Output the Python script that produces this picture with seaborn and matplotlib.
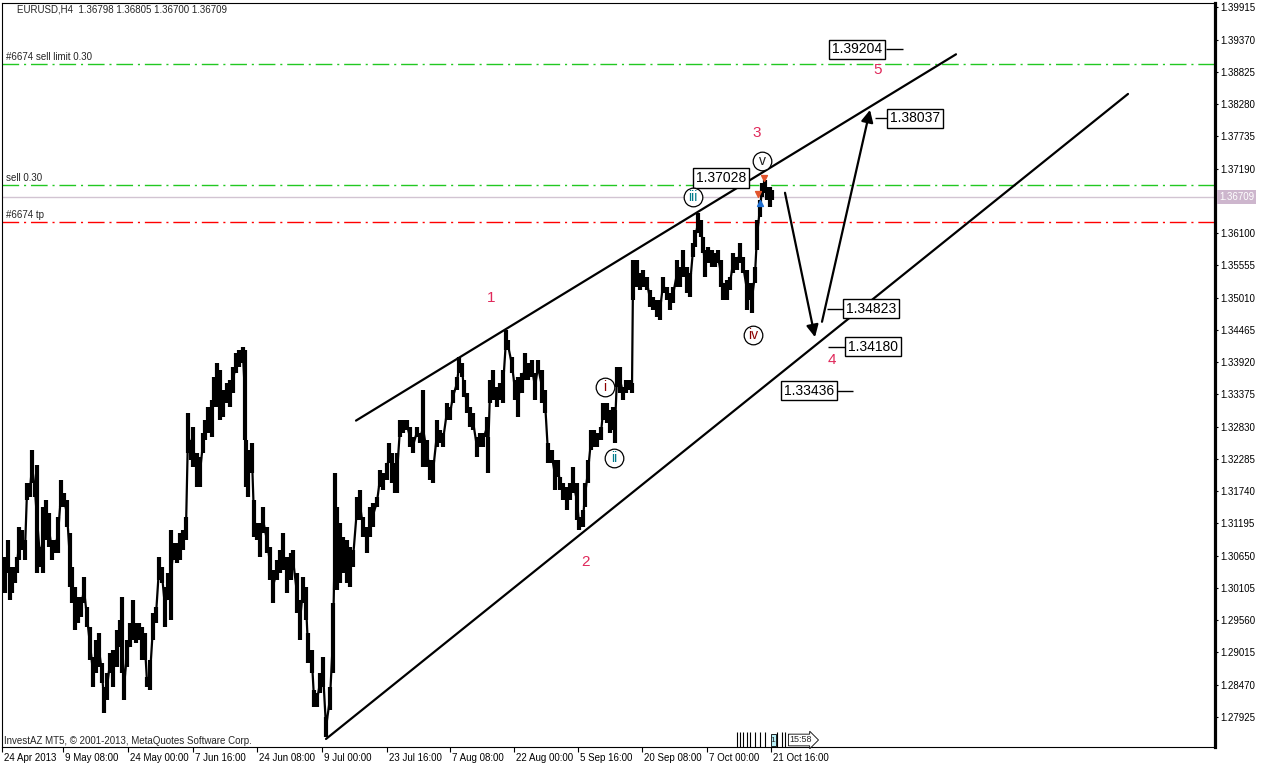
import matplotlib

matplotlib.use("Agg")

import matplotlib.pyplot as plt
import matplotlib.transforms as mtransforms
import pandas as pd
import seaborn as sns

# EURUSD H4 bars (bar index ~ one bar per pixel column)
BAR_INDEX = [
    5, 8, 10, 12, 15, 17, 19, 22, 25, 27,
    30, 32, 35, 37, 40, 43, 46, 49, 52, 55,
    58, 61, 64, 67, 70, 72, 75, 78, 81, 84,
    87, 90, 93, 96, 99, 102, 104, 107, 110, 113,
    117, 120, 122, 124, 127, 130, 133, 136, 139, 142,
    145, 147, 150, 153, 156, 159, 162, 165, 168, 171,
    173, 177, 180, 183, 186, 188, 191, 193, 197, 200,
    203, 205, 208, 212, 214, 217, 220, 223, 227, 230,
    233, 236, 239, 243, 245, 246, 248, 252, 254, 257,
    260, 263, 267, 270, 273, 277, 280, 283, 287, 291,
    293, 297, 300, 303, 306, 308, 312, 314, 317, 320,
    323, 326, 330, 333, 335, 337, 340, 343, 347, 350,
    353, 357, 360, 363, 367, 370, 373, 377, 380, 383,
    387, 389, 392, 395, 397, 400, 403, 407, 410, 413,
    417, 420, 423, 427, 430, 433, 437, 440, 443, 447,
    450, 453, 457, 459, 462, 464, 467, 470, 473, 477,
    480, 483, 487, 488, 490, 493, 497, 500, 503, 506,
    508, 512, 515, 518, 522, 525, 528, 532, 535, 538,
    542, 545, 548, 552, 555, 558, 560, 563, 567, 570,
    573, 577, 579, 583, 585, 588, 591, 594, 597, 601,
    603, 607, 610, 613, 615, 617, 620, 623, 626, 629,
    632, 633, 637, 640, 643, 647, 650, 653, 657, 660,
    663, 667, 670, 673, 677, 680, 683, 687, 690, 693,
    695, 698, 701, 703, 705, 708, 712, 715, 718, 721,
    723, 727, 730, 733, 737, 740, 743, 747, 750, 752,
    755, 757, 760, 762, 765, 767, 770, 772,
]
BAR_HIGH = [
    1.3063, 1.3091, 1.3046, 1.3046, 1.3046, 1.3063, 1.3113, 1.3108, 1.3091, 1.3188,
    1.3188, 1.3243, 1.3188, 1.3218, 1.3079, 1.3147, 1.3159, 1.3137, 1.3091, 1.3091,
    1.3130, 1.3193, 1.3171, 1.3159, 1.3103, 1.3046, 1.3012, 1.2995, 1.2995, 1.3029,
    1.2978, 1.2944, 1.2894, 1.2922, 1.2934, 1.2883, 1.2843, 1.2866, 1.2900, 1.2905,
    1.2939, 1.2956, 1.2995, 1.2866, 1.2922, 1.2951, 1.2990, 1.2951, 1.2951, 1.2944,
    1.2934, 1.2860, 1.2888, 1.2968, 1.2978, 1.3063, 1.3046, 1.3012, 1.3035, 1.3108,
    1.3086, 1.3086, 1.3103, 1.3108, 1.3130, 1.3306, 1.3260, 1.3282, 1.3238, 1.3232,
    1.3272, 1.3294, 1.3316, 1.3328, 1.3367, 1.3390, 1.3379, 1.3345, 1.3357, 1.3362,
    1.3384, 1.3407, 1.3412, 1.3417, 1.3412, 1.3260, 1.3243, 1.3255, 1.3159, 1.3120,
    1.3120, 1.3147, 1.3113, 1.3079, 1.3041, 1.3057, 1.3074, 1.3103, 1.3063, 1.3069,
    1.3074, 1.3035, 1.2990, 1.3029, 1.3012, 1.2934, 1.2905, 1.2838, 1.2833, 1.2866,
    1.2894, 1.2792, 1.2843, 1.2985, 1.3204, 1.3147, 1.3120, 1.3096, 1.3091, 1.3079,
    1.3074, 1.3164, 1.3176, 1.3130, 1.3113, 1.3147, 1.3154, 1.3164, 1.3210, 1.3204,
    1.3221, 1.3255, 1.3238, 1.3221, 1.3238, 1.3294, 1.3294, 1.3294, 1.3282, 1.3265,
    1.3282, 1.3272, 1.3345, 1.3260, 1.3226, 1.3226, 1.3294, 1.3277, 1.3272, 1.3323,
    1.3316, 1.3345, 1.3367, 1.3401, 1.3390, 1.3362, 1.3340, 1.3316, 1.3306, 1.3265,
    1.3272, 1.3272, 1.3299, 1.3265, 1.3362, 1.3379, 1.3350, 1.3357, 1.3379, 1.3446,
    1.3429, 1.3401, 1.3362, 1.3367, 1.3373, 1.3407, 1.3390, 1.3395, 1.3373, 1.3395,
    1.3379, 1.3345, 1.3255, 1.3243, 1.3226, 1.3226, 1.3198, 1.3188, 1.3181, 1.3188,
    1.3215, 1.3188, 1.3130, 1.3142, 1.3188, 1.3226, 1.3277, 1.3277, 1.3272, 1.3282,
    1.3323, 1.3323, 1.3311, 1.3316, 1.3311, 1.3384, 1.3384, 1.3350, 1.3362, 1.3362,
    1.3357, 1.3564, 1.3564, 1.3542, 1.3548, 1.3536, 1.3514, 1.3502, 1.3497, 1.3497,
    1.3536, 1.3519, 1.3509, 1.3519, 1.3564, 1.3553, 1.3581, 1.3553, 1.3542, 1.3593,
    1.3615, 1.3644, 1.3632, 1.3603, 1.3581, 1.3586, 1.3581, 1.3576, 1.3581, 1.3564,
    1.3526, 1.3531, 1.3536, 1.3576, 1.3570, 1.3593, 1.3570, 1.3548, 1.3526, 1.3526,
    1.3553, 1.3632, 1.3666, 1.3695, 1.3700, 1.3688, 1.3688, 1.3683,
]
BAR_LOW = [
    1.3002, 1.3035, 1.2990, 1.3002, 1.3019, 1.3035, 1.3057, 1.3074, 1.3057, 1.3159,
    1.3164, 1.3188, 1.3164, 1.3035, 1.3046, 1.3035, 1.3091, 1.3079, 1.3057, 1.3069,
    1.3069, 1.3147, 1.3147, 1.3113, 1.3012, 1.2985, 1.2939, 1.2951, 1.2961, 1.2985,
    1.2944, 1.2888, 1.2843, 1.2866, 1.2877, 1.2850, 1.2799, 1.2821, 1.2866, 1.2843,
    1.2877, 1.2910, 1.2866, 1.2821, 1.2877, 1.2910, 1.2922, 1.2917, 1.2922, 1.2888,
    1.2888, 1.2843, 1.2838, 1.2922, 1.2951, 1.3024, 1.3019, 1.2944, 1.2990, 1.2956,
    1.3057, 1.3052, 1.3057, 1.3074, 1.3091, 1.3238, 1.3226, 1.3215, 1.3181, 1.3181,
    1.3238, 1.3260, 1.3272, 1.3265, 1.3316, 1.3316, 1.3294, 1.3299, 1.3323, 1.3316,
    1.3340, 1.3373, 1.3384, 1.3390, 1.3260, 1.3181, 1.3164, 1.3204, 1.3096, 1.3091,
    1.3063, 1.3103, 1.3069, 1.3024, 1.2985, 1.3024, 1.3035, 1.3041, 1.3002, 1.3024,
    1.3041, 1.2968, 1.2922, 1.2985, 1.2956, 1.2883, 1.2866, 1.2809, 1.2809, 1.2833,
    1.2843, 1.2758, 1.2804, 1.2866, 1.3007, 1.3007, 1.3019, 1.3035, 1.3019, 1.3012,
    1.3046, 1.3125, 1.3125, 1.3096, 1.3069, 1.3096, 1.3113, 1.3147, 1.3181, 1.3176,
    1.3193, 1.3221, 1.3188, 1.3171, 1.3171, 1.3265, 1.3272, 1.3277, 1.3248, 1.3238,
    1.3265, 1.3255, 1.3215, 1.3215, 1.3193, 1.3188, 1.3248, 1.3255, 1.3248, 1.3294,
    1.3294, 1.3323, 1.3345, 1.3373, 1.3367, 1.3333, 1.3306, 1.3282, 1.3277, 1.3232,
    1.3248, 1.3248, 1.3265, 1.3204, 1.3323, 1.3328, 1.3316, 1.3328, 1.3323, 1.3412,
    1.3412, 1.3373, 1.3328, 1.3299, 1.3340, 1.3362, 1.3362, 1.3367, 1.3328, 1.3373,
    1.3323, 1.3306, 1.3221, 1.3221, 1.3176, 1.3198, 1.3176, 1.3159, 1.3142, 1.3159,
    1.3171, 1.3125, 1.3108, 1.3113, 1.3147, 1.3188, 1.3243, 1.3248, 1.3248, 1.3260,
    1.3294, 1.3289, 1.3272, 1.3277, 1.3255, 1.3350, 1.3340, 1.3328, 1.3340, 1.3345,
    1.3340, 1.3497, 1.3519, 1.3514, 1.3519, 1.3514, 1.3485, 1.3480, 1.3468, 1.3463,
    1.3509, 1.3497, 1.3480, 1.3492, 1.3519, 1.3519, 1.3536, 1.3509, 1.3502, 1.3570,
    1.3586, 1.3610, 1.3603, 1.3576, 1.3536, 1.3559, 1.3553, 1.3553, 1.3559, 1.3519,
    1.3497, 1.3497, 1.3514, 1.3542, 1.3548, 1.3559, 1.3542, 1.3480, 1.3497, 1.3475,
    1.3526, 1.3581, 1.3637, 1.3671, 1.3678, 1.3666, 1.3654, 1.3666,
]

LAST_PRICE = 1.36709
HEADER = "EURUSD,H4  1.36798 1.36805 1.36700 1.36709"
FOOTER = "InvestAZ MT5, \u00a9 2001-2013, MetaQuotes Software Corp."

# order levels
ORDER_LEVELS = [1.38957, 1.36912, 1.36287]
ORDER_LABELS = ["#6674 sell limit 0.30", "sell 0.30", "#6674 tp"]
ORDER_COLORS = ["#22c822", "#22c822", "#ff0000"]

# wedge / channel lines (bar index, price)
UPPER_X = [356, 956]
UPPER_Y = [1.3293, 1.3912]
LOWER_X = [326, 1128]
LOWER_Y = [1.2755, 1.3845]

# projected path arrows (start, end)
DOWN_ARROW = [(785, 1.3678), (815, 1.3434)]
UP_ARROW = [(822, 1.3460), (870, 1.3818)]

# price target boxes
TARGET_LEVELS = [1.39204, 1.38037, 1.37028, 1.34823, 1.34180, 1.33436]
TARGET_BOX_X = [857, 915, 721, 871, 873, 809]
TARGET_LEADERS = [(886, 903), (875, 887), None, (827, 843), (828, 845), (837, 853)]

# Elliott wave counts
WAVE_LABELS = ["1", "2", "3", "4", "5"]
WAVE_X = [491, 586, 757, 832, 878]
WAVE_Y = [1.3500, 1.3054, 1.3779, 1.3395, 1.3886]

SUB_LABELS = ["i", "ii", "iii", "iv", "v"]
SUB_X = [605, 614, 693, 753, 762]
SUB_Y = [1.3350, 1.3230, 1.3671, 1.3438, 1.3732]
SUB_COLORS = ["#8b0000", "#007b8b", "#007b8b", "#8b0000", "#202020"]

# trade history markers near the last bars
TRADE_MARK_X = [737, 740, 743, 747, 750, 755, 760, 765, 777, 782, 785]

X_TICKS = [2, 63, 128, 193, 257, 322, 387, 450, 514, 578, 642, 707, 771]
X_TICK_LABELS = [
    "24 Apr 2013", "9 May 08:00", "24 May 00:00", "7 Jun 16:00", "24 Jun 08:00",
    "9 Jul 00:00", "23 Jul 16:00", "7 Aug 08:00", "22 Aug 00:00", "5 Sep 16:00",
    "20 Sep 08:00", "7 Oct 00:00", "21 Oct 16:00",
]
Y_TICKS = [
    1.39915, 1.39370, 1.38825, 1.38280, 1.37735, 1.37190, 1.36645, 1.36100,
    1.35555, 1.35010, 1.34465, 1.33920, 1.33375, 1.32830, 1.32285, 1.31740,
    1.31195, 1.30650, 1.30105, 1.29560, 1.29015, 1.28470, 1.27925,
]
# the 1.36645 label sits under the last-price tag, so it is left blank
Y_TICK_LABELS = [f"{v:.5f}" if v != 1.36645 else "" for v in Y_TICKS]

W, H = 1268, 769


def main() -> None:
    sns.set_style("white")
    plt.rcParams["font.family"] = ["Liberation Sans", "DejaVu Sans"]

    fig = plt.figure(figsize=(W / 100, H / 100), dpi=100)
    ax = fig.add_axes([2 / W, (H - 747) / H, (1215 - 2) / W, (747 - 3) / H])
    ax.set_xlim(2, 1215)
    ax.set_ylim(1.27414, 1.39987)

    bars = pd.DataFrame({"bar": BAR_INDEX, "high": BAR_HIGH, "low": BAR_LOW})
    bars["mid"] = (bars["high"] + bars["low"]) / 2

    ax.vlines(bars["bar"], bars["low"], bars["high"], color="black", lw=3.0, zorder=3)
    sns.lineplot(data=bars, x="bar", y="mid", color="black", lw=1.6, ax=ax, zorder=3)

    dash = (0, (12, 3.5, 1.5, 3.5))
    for level, label, color in zip(ORDER_LEVELS, ORDER_LABELS, ORDER_COLORS):
        ax.axhline(level, color=color, lw=1, linestyle=dash, zorder=1)
        ax.annotate(label, xy=(6, level), xytext=(0, 1.5), textcoords="offset points",
                    fontsize=7, va="bottom", ha="left")
    ax.axhline(LAST_PRICE, color="#d2c4d2", lw=1, zorder=1)

    sns.lineplot(x=UPPER_X, y=UPPER_Y, color="black", lw=1.6, ax=ax, zorder=4)
    sns.lineplot(x=LOWER_X, y=LOWER_Y, color="black", lw=1.6, ax=ax, zorder=4)

    for start, end in (DOWN_ARROW, UP_ARROW):
        ax.annotate("", xy=end, xytext=start,
                    arrowprops=dict(arrowstyle="-|>", color="black", lw=1.6,
                                    mutation_scale=18, shrinkA=0, shrinkB=0),
                    zorder=5)

    for level, bx, leader in zip(TARGET_LEVELS, TARGET_BOX_X, TARGET_LEADERS):
        if leader is not None:
            ax.hlines(level, leader[0], leader[1], color="black", lw=1, zorder=5)
        ax.text(bx, level, f"{level:.5f}", ha="center", va="center", fontsize=10,
                color="black", zorder=6,
                bbox=dict(boxstyle="square,pad=0.2", fc="white", ec="black", lw=1))

    for label, x, y in zip(WAVE_LABELS, WAVE_X, WAVE_Y):
        ax.text(x, y, label, ha="center", va="center", fontsize=11, color="#e0285a", zorder=6)

    ax.scatter(SUB_X, SUB_Y, s=180, facecolor="white", edgecolor="black", lw=0.9, zorder=6)
    for label, x, y, color in zip(SUB_LABELS, SUB_X, SUB_Y, SUB_COLORS):
        ax.text(x, y, label, ha="center", va="center", fontsize=10, color=color, zorder=7)

    # deal arrows on the last bars
    ax.scatter([758, 764], [1.3676, 1.3703], marker="v", s=18, color="#e2542c", zorder=7)
    ax.scatter([760], [1.3660], marker="^", s=18, color="#1f6fd1", zorder=7)

    bottom = mtransforms.blended_transform_factory(ax.transData, ax.transAxes)
    ax.vlines(TRADE_MARK_X, 0, 15 / 744, color="black", lw=0.8, transform=bottom, zorder=4)
    ax.add_patch(plt.Rectangle((770.5, 0.002), 5, 12 / 744, transform=bottom,
                               fc="#b8f0f8", ec="black", lw=0.6, zorder=5))
    ax.text(773, 7 / 744, "1", transform=bottom, fontsize=6, ha="center", va="center", zorder=6)
    ax.text(801, 7 / 744, "15:58", transform=bottom, fontsize=6.5, ha="center", va="center",
            zorder=6, bbox=dict(boxstyle="rarrow,pad=0.15", fc="white", ec="black", lw=0.6))

    price_axis = mtransforms.blended_transform_factory(ax.transAxes, ax.transData)
    ax.annotate(f"{LAST_PRICE:.5f}", xy=(1, LAST_PRICE), xycoords=price_axis,
                xytext=(3, 0), textcoords="offset points", ha="left", va="center",
                fontsize=7, color="white", annotation_clip=False, zorder=10,
                bbox=dict(boxstyle="square,pad=0.2", fc="#cdb6cd", ec="none"))

    ax.yaxis.tick_right()
    ax.set_yticks(Y_TICKS)
    ax.set_yticklabels(Y_TICK_LABELS)
    ax.set_xticks(X_TICKS)
    ax.set_xticklabels(X_TICK_LABELS, ha="left")
    ax.tick_params(axis="y", which="both", right=True, left=False, direction="out",
                   length=2.5, width=0.8, pad=1, labelsize=7, colors="black")
    ax.tick_params(axis="x", which="both", bottom=True, direction="out",
                   length=3.6, width=0.8, pad=1, labelsize=7, colors="black")
    for lab in ax.get_xticklabels():
        lab.set_transform(lab.get_transform() + mtransforms.ScaledTranslation(2 / 100, 0, fig.dpi_scale_trans))
    ax.set_xlabel("")
    ax.set_ylabel("")

    for side in ("left", "top", "bottom"):
        ax.spines[side].set_color("black")
        ax.spines[side].set_linewidth(0.8)
    ax.spines["right"].set_color("black")
    ax.spines["right"].set_linewidth(2.3)

    fig.text(17 / W, 1 - 9 / H, HEADER, fontsize=7, va="center", ha="left")
    fig.text(4 / W, 1 - 741.5 / H, FOOTER, fontsize=7, va="center", ha="left")

    fig.savefig("out.png", dpi=100, facecolor="white")
    plt.close(fig)


if __name__ == "__main__":
    main()
